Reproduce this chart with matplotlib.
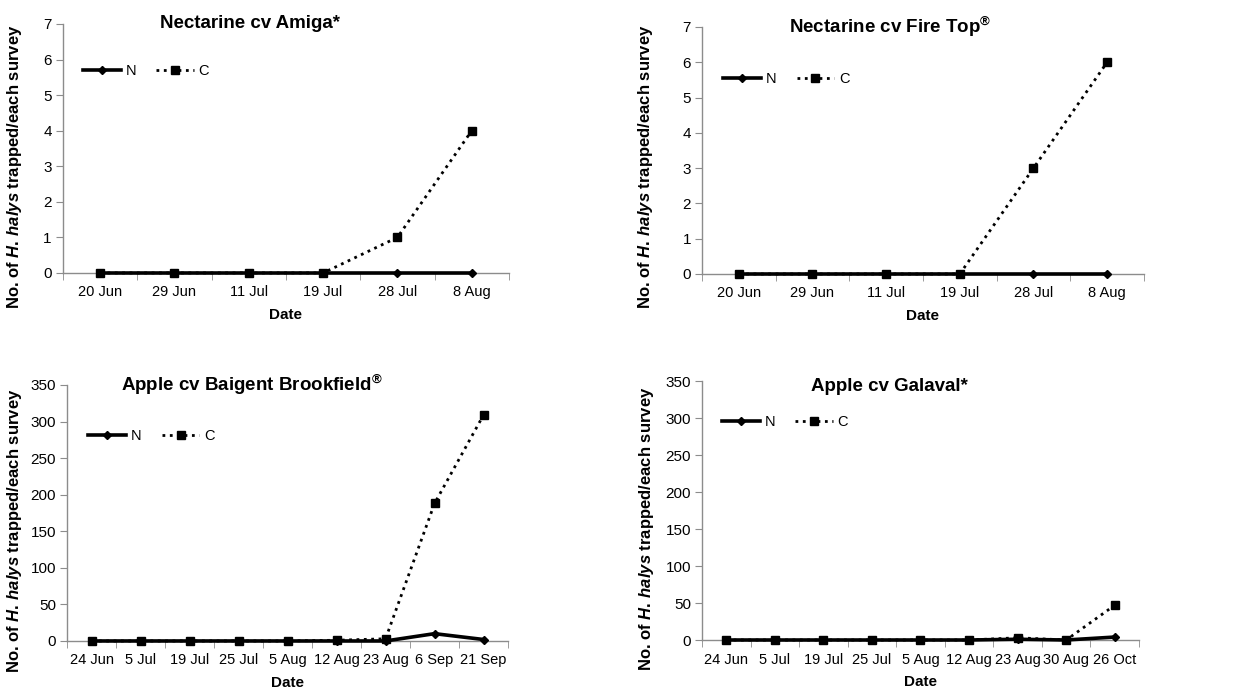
import matplotlib
matplotlib.use('Agg')
import matplotlib.pyplot as plt
import numpy as np

plt.rcParams['font.family'] = ['Liberation Sans', 'DejaVu Sans']
plt.rcParams['mathtext.fontset'] = 'custom'
plt.rcParams['mathtext.it'] = 'Liberation Sans:italic:bold'
plt.rcParams['mathtext.rm'] = 'Liberation Sans:bold'
plt.rcParams['mathtext.bf'] = 'Liberation Sans:bold'

# Data
dates_nect = ['20 Jun', '29 Jun', '11 Jul', '19 Jul', '28 Jul', '8 Aug']
amiga_n = [0, 0, 0, 0, 0, 0]
amiga_c = [0, 0, 0, 0, 1, 4]
firetop_n = [0, 0, 0, 0, 0, 0]
firetop_c = [0, 0, 0, 0, 3, 6]

dates_baigent = ['24 Jun', '5 Jul', '19 Jul', '25 Jul', '5 Aug', '12 Aug', '23 Aug', '6 Sep', '21 Sep']
baigent_n = [0, 0, 0, 0, 0, 0, 0, 10, 2]
baigent_c = [0, 0, 0, 0, 0, 1, 3, 188, 309]

dates_galaval = ['24 Jun', '5 Jul', '19 Jul', '25 Jul', '5 Aug', '12 Aug', '23 Aug', '30 Aug', '26 Oct']
galaval_n = [0, 0, 0, 0, 0, 0, 1, 0, 4]
galaval_c = [0, 0, 0, 0, 0, 0, 3, 0, 47]

titles = ['Nectarine cv Amiga*', 'Nectarine cv Fire Top$^{®}$',
          'Apple cv Baigent Brookfield$^{®}$', 'Apple cv Galaval*']

fig = plt.figure(figsize=(12.44, 6.91), dpi=100)

# panel layout (fig fractions) and text placement (axes fractions)
panels = [
    dict(rect=[0.0506, 0.605, 0.3585, 0.3603], dates=dates_nect, n=amiga_n, c=amiga_c,
         ymax=7, ystep=1, title_xy=(0.42, 1.0), leg_xy=(0.045, 0.81), ylab_xy=(-0.087, 0.426)),
    dict(rect=[0.5643, 0.6035, 0.3553, 0.3575], dates=dates_nect, n=firetop_n, c=firetop_c,
         ymax=7, ystep=1, title_xy=(0.425, 1.0), leg_xy=(0.048, 0.79), ylab_xy=(-0.106, 0.433)),
    dict(rect=[0.0539, 0.0724, 0.3545, 0.3705], dates=dates_baigent, n=baigent_n, c=baigent_c,
         ymax=350, ystep=50, title_xy=(0.42, 1.0), leg_xy=(0.048, 0.80), ylab_xy=(-0.0975, 0.43)),
    dict(rect=[0.5643, 0.0738, 0.3513, 0.3748], dates=dates_galaval, n=galaval_n, c=galaval_c,
         ymax=350, ystep=50, title_xy=(0.43, 0.98), leg_xy=(0.046, 0.84), ylab_xy=(-0.105, 0.43)),
]

for p, title in zip(panels, titles):
    ax = fig.add_axes(p['rect'])
    x = np.arange(len(p['dates']))
    ax.plot(x, p['n'], color='black', linestyle='-', linewidth=2.6, marker='D',
            markersize=4.5, label='N', clip_on=False, zorder=3)
    ax.plot(x, p['c'], color='black', linestyle=':', linewidth=2.0, marker='s',
            markersize=5.5, label='C', clip_on=False, zorder=4)

    ax.set_xlim(-0.5, len(x) - 0.5)
    ax.set_ylim(0, p['ymax'])
    ax.set_yticks(np.arange(0, p['ymax'] + p['ystep'], p['ystep']))
    ax.set_xticks(x)
    ax.set_xticklabels(p['dates'])
    ax.set_xticks(np.arange(-0.5, len(x)), minor=True)
    ax.tick_params(axis='x', which='major', length=0, pad=9, labelsize=10.5)
    ax.tick_params(axis='x', which='minor', length=5, color='#8c8c8c', direction='out')
    ax.tick_params(axis='y', length=5, color='#8c8c8c', labelsize=11, pad=3)

    for side in ['top', 'right']:
        ax.spines[side].set_visible(False)
    for side in ['left', 'bottom']:
        ax.spines[side].set_color('#8c8c8c')
        ax.spines[side].set_linewidth(1.0)

    ax.set_xlabel('Date', fontsize=11, fontweight='bold', labelpad=6)
    ax.set_ylabel(r'No. of $\mathit{H.\,halys}$ trapped/each survey', fontsize=12, fontweight='bold')
    ax.yaxis.set_label_coords(*p['ylab_xy'])

    ax.text(p['title_xy'][0], p['title_xy'][1], title, transform=ax.transAxes,
            ha='center', va='center', fontsize=13.5, fontweight='bold')

    ax.legend(loc='center left', bbox_to_anchor=p['leg_xy'], ncol=2, frameon=False,
              fontsize=10.5, handlelength=2.6, handletextpad=0.3, columnspacing=1.4,
              borderpad=0, borderaxespad=0, numpoints=1)

fig.savefig('out.png', dpi=100)
